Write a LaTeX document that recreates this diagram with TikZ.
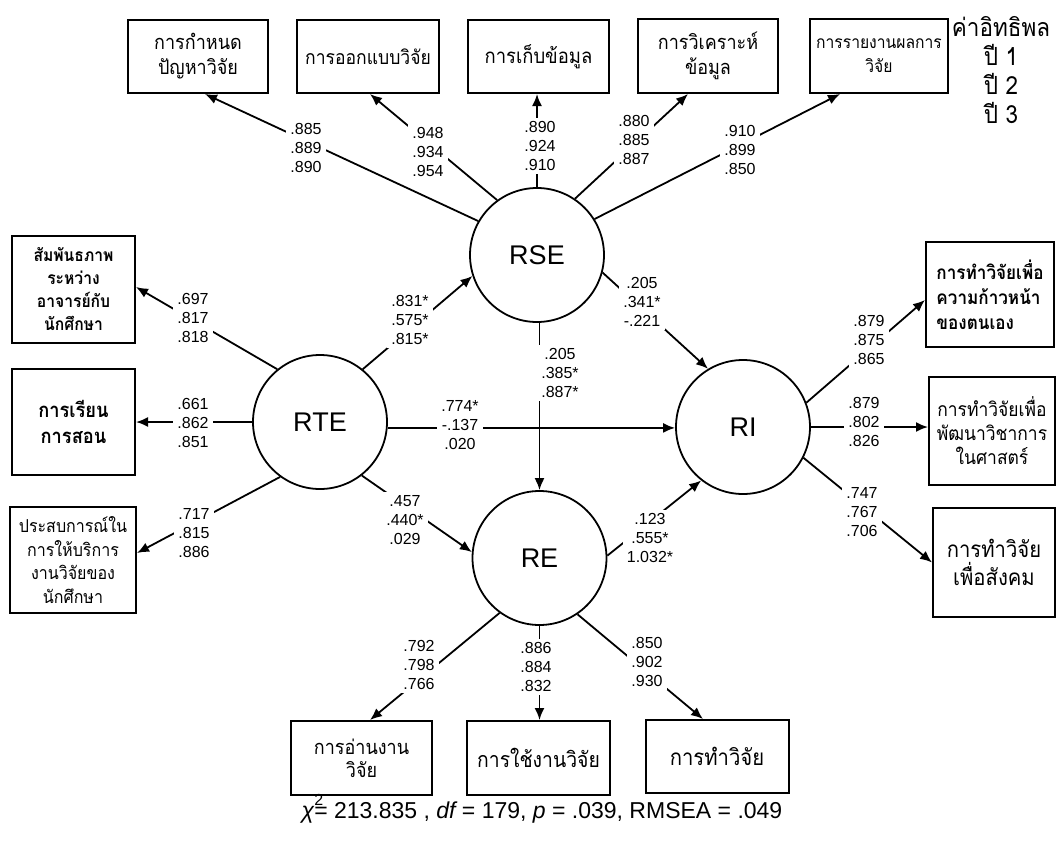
\documentclass[tikz,border=0pt]{standalone}
\usepackage{fontspec}
\setmainfont{Liberation Sans}
\newfontfamily\thai[Script=Thai, FakeStretch=0.9]{Loma}
\usetikzlibrary{arrows.meta}

\begin{document}
\begin{tikzpicture}[x=1pt,y=-1pt,
  latent/.style={circle, draw, line width=1.8pt, minimum size=134pt, inner sep=0pt,
    font=\fontsize{27}{30}\selectfont},
  obs/.style={rectangle, draw, line width=2pt, inner sep=2pt, align=center,
    font=\thai\fontsize{20}{25}\selectfont},
  link/.style={line width=1.8pt, -{Latex[length=12pt,width=10pt]}},
  coef/.style={fill=white, inner sep=4pt, align=center,
    font=\fontsize{16}{18.7}\selectfont}
]
\useasboundingbox (0,0) rectangle (1057,841);

% latent variables
\node[latent] (RSE) at (537,255) {RSE};
\node[latent] (RTE) at (320,422) {RTE};
\node[latent] (RI)  at (743,427) {RI};
\node[latent] (RE)  at (539.5,558) {RE};

% indicators of RSE
\node[obs, minimum width=140pt, minimum height=73pt] (b1) at (198,56.5) {การกำหนด\\ปัญหาวิจัย};
\node[obs, minimum width=142pt, minimum height=73pt, font=\thai\fontsize{19.5}{24}\selectfont] (b2) at (368,56.5) {การออกแบบวิจัย};
\node[obs, minimum width=141pt, minimum height=73pt, font=\thai\fontsize{20.5}{25}\selectfont] (b3) at (538.5,56.5) {การเก็บข้อมูล};
\node[obs, minimum width=140pt, minimum height=74pt] (b4) at (708,56) {การวิเคราะห์\\ข้อมูล};
\node[obs, minimum width=138pt, minimum height=74pt, font=\thai\fontsize{17.4}{24}\selectfont] (b5) at (879,56) {การรายงานผลการ\\วิจัย};

% indicators of RTE
\node[obs, minimum width=123pt, minimum height=107pt, font=\thai\bfseries\fontsize{17.4}{23}\selectfont] (b6) at (73.5,289.5) {สัมพันธภาพ\\ระหว่าง\\อาจารย์กับ\\นักศึกษา};
\node[obs, minimum width=123pt, minimum height=106pt, font=\thai\bfseries\fontsize{20.3}{26}\selectfont] (b7) at (73.5,422) {การเรียน\\การสอน};
\node[obs, minimum width=126pt, minimum height=106pt, font=\thai\fontsize{17.8}{23.5}\selectfont] (b8) at (73,560) {ประสบการณ์ใน\\การให้บริการ\\งานวิจัยของ\\นักศึกษา};

% indicators of RI
\node[obs, minimum width=128pt, minimum height=105pt, align=left, font=\thai\bfseries\fontsize{19}{25}\selectfont] (b9) at (990,294.5) {การทำวิจัยเพื่อ\\ความก้าวหน้า\\ของตนเอง};
\node[obs, minimum width=126pt, minimum height=108pt, font=\thai\fontsize{19.4}{24}\selectfont] (b10) at (992,431) {การทำวิจัยเพื่อ\\พัฒนาวิชาการ\\ในศาสตร์};
\node[obs, minimum width=122pt, minimum height=109pt, font=\thai\fontsize{22.5}{28}\selectfont] (b11) at (994,562.5) {การทำวิจัย\\เพื่อสังคม};

% indicators of RE
\node[obs, minimum width=141pt, minimum height=74pt, font=\thai\fontsize{20}{23}\selectfont] (b12) at (361.5,758) {การอ่านงาน\\วิจัย};
\node[obs, minimum width=143pt, minimum height=74pt, font=\thai\fontsize{21.5}{25}\selectfont] (b13) at (538.5,758) {การใช้งานวิจัย};
\node[obs, minimum width=143pt, minimum height=73pt, font=\thai\fontsize{22.5}{25}\selectfont] (b14) at (717,756.5) {การทำวิจัย};

% measurement paths
\draw[link] (RSE.150) -- ([xshift=7pt]b1.south);
\draw[link] (RSE.126) -- ([xshift=2pt]b2.south);
\draw[link] (RSE.north) -- (RSE.north |- b3.south);
\draw[link] (RSE.56) -- ([xshift=-20pt]b4.south);
\draw[link] (RSE.32) -- ([xshift=-39pt]b5.south);
\draw[link] (RTE.129) -- ([yshift=2.5pt]b6.east);
\draw[link] (RTE.west) -- (b7.east);
\draw[link] (RTE.234) -- ([yshift=7pt]b8.east);
\draw[link] (RI.21) -- ([yshift=-5.5pt]b9.west);
\draw[link] (RI.east) -- (RI.east -| b10.west);
\draw[link] (RI.-27) -- (b11.west);
\draw[link] (RE.234) -- ([xshift=8.5pt]b12.north);
\draw[link] (RE.south) -- (RE.south |- b13.north);
\draw[link] (RE.304) -- ([xshift=-14pt]b14.north);

% structural paths
\draw[link] (RTE.51) -- (RSE.198);
\draw[link] (RTE.-5) -- (RTE.-5 -| RI.west);
\draw[link] (RTE.308) -- (RE.175);
\draw[link] (RSE.south -| RE.north) -- (RE.north);
\draw[link] (RSE.-15.5) -- (RI.121.5);
\draw[link] (RE.2) -- (RI.232);

% coefficients (year 1 / year 2 / year 3)
\node[coef] (c1)  at (306,148) {.885\\.889\\.890};
\node[coef] (c2)  at (428,152) {.948\\.934\\.954};
\node[coef] (c3)  at (540,146) {.890\\.924\\.910};
\node[coef] (c4)  at (634,140) {.880\\.885\\.887};
\node[coef] (c5)  at (740,150) {.910\\.899\\.850};
\node[coef] (c6)  at (193,318) {.697\\.817\\.818};
\node[coef] (c7)  at (193,423) {.661\\.862\\.851};
\node[coef] (c8)  at (194,533) {.717\\.815\\.886};
\node[coef] (c9)  at (410,320) {.831*\\.575*\\.815*};
\node[coef] (c10) at (460,425) {.774*\\-.137\\.020};
\node[coef, inner xsep=6pt] (c11) at (560,373) {.205\\.385*\\.887*};
\node[coef] (c12) at (642,302) {.205\\.341*\\-.221};
\node[coef] (c13) at (405,520) {.457\\.440*\\.029};
\node[coef] (c14) at (650,538) {.123\\.555*\\1.032*};
\node[coef] (c15) at (869,340) {.879\\.875\\.865};
\node[coef] (c16) at (864,422) {.879\\.802\\.826};
\node[coef] (c17) at (862,512) {.747\\.767\\.706};
\node[coef] (c18) at (419,665) {.792\\.798\\.766};
\node[coef] (c19) at (536,667) {.886\\.884\\.832};
\node[coef] (c20) at (647,662) {.850\\.902\\.930};

% legend
\node[align=center, font=\thai\fontsize{25}{29}\selectfont] (legend) at (1001,70.5)
  {ค่าอิทธิพล\\ปี 1\\ปี 2\\ปี 3};

% fit indices
\node[font=\fontsize{23}{27}\selectfont] (fit) at (542,809)
  {{\itshape χ}\rlap{\raisebox{1.1ex}{\fontsize{16}{16}\selectfont 2}}= 213.835 , {\itshape df} = 179, {\itshape p} = .039, RMSEA = .049};
\end{tikzpicture}
\end{document}
